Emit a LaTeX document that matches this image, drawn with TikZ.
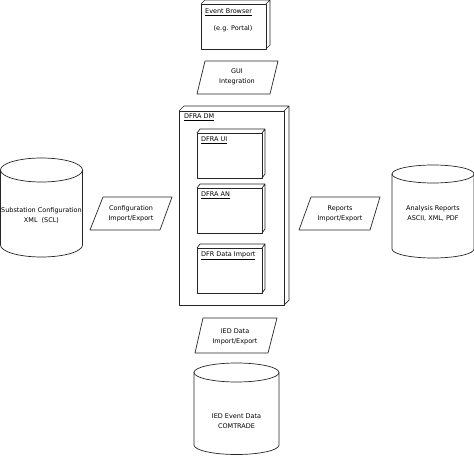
\documentclass[tikz,border=0pt]{standalone}
\usepackage{fontspec}
\setmainfont{DejaVu Sans}

\begin{document}
\begin{tikzpicture}[
		x=1bp, y=-1bp,
		every node/.style={font=\fontsize{6.5}{10}\selectfont, align=center, inner sep=0pt},
		title/.style={anchor=base west},
		shape line/.style={draw=black!85, line width=0.7bp, line join=round}
	]
  \useasboundingbox (0,0) rectangle (474,464);

  % event browser
  \draw[shape line] (201,4) rectangle (266,49);
  \draw[shape line] (201,4) -- (205,0) -- (270,0) -- (270,45) -- (266,49) (266,4) -- (270,0);
  \node (browser) [title] at (205,13.5) {\underline{Event Browser}};
  \node (portal) at (233,29) {(e.g. Portal)};

  % gui integration
  \draw[shape line] (205,61) -- (278,61) -- (270,94) -- (197,94) -- cycle;
  \node (gui) at (237,77) {GUI\\Integration};

  % dfra dm
  \draw[shape line] (179,111) rectangle (284,305);
  \draw[shape line] (179,111) -- (184,106) -- (289,106) -- (289,300) -- (284,305) (284,111) -- (289,106);
  \node (dm) [title] at (184,118.5) {\underline{DFRA DM}};
  \foreach \top/\name [count=\i] in {133/DFRA UI, 188/DFRA AN, 248/DFR Data Import} {
    \draw[shape line] (197,\top) rectangle (262,\top+45);
    \draw[shape line] (197,\top) -- (200,\top-4) -- (265,\top-4) -- (265,\top+41) -- (262,\top+45) (262,\top) -- (265,\top-4);
    \node (part\i) [title] at (201,\top+8.5) {\underline{\name}};
  }

  % substation configuration
  \draw[shape line] (0.5,170) -- (0.5,245) arc[start angle=180, end angle=0, x radius=41, y radius=12] -- (82.5,170);
  \draw[shape line] (41.5,170) ellipse [x radius=41, y radius=12];
  \node (scl) at (41.5,215) {Substation Configuration\\XML\ \ (SCL)};
  \draw[shape line] (103,197) -- (172,197) -- (160,230) -- (90,230) -- cycle;
  \node (config) at (131,213.5) {Configuration\\Import/Export};

  % reports
  \draw[shape line] (311,197) -- (380,197) -- (370,230) -- (299,230) -- cycle;
  \node (reports) at (340,214) {Reports\\Import/Export};
  \draw[shape line] (392,174) -- (392,249) arc[start angle=180, end angle=0, x radius=41, y radius=9] -- (474,174);
  \draw[shape line] (433,174) ellipse [x radius=41, y radius=9];
  \node (analysis) at (433,213.5) {Analysis Reports\\ASCII, XML, PDF};

  % ied data
  \draw[shape line] (203,318) -- (277,318) -- (268,353) -- (195,353) -- cycle;
  \node (ied) at (235,337) {IED Data\\Import/Export};
  \draw[shape line] (194,372.5) -- (194,445) arc[start angle=180, end angle=0, x radius=42.5, y radius=9.5] -- (279,372.5);
  \draw[shape line] (236.5,372.5) ellipse [x radius=42.5, y radius=9.5];
  \node (comtrade) at (236.5,421.5) {IED Event Data\\COMTRADE};
\end{tikzpicture}
\end{document}
